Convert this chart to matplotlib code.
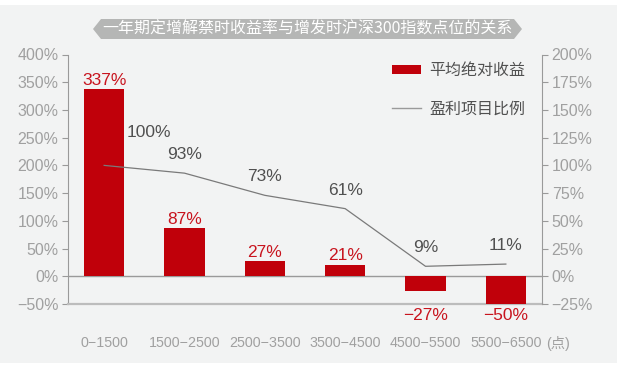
import numpy as np
import matplotlib
matplotlib.use('Agg')
import matplotlib.pyplot as plt
from matplotlib.patches import Polygon, Rectangle, Patch
from matplotlib.lines import Line2D

plt.rcParams['font.family'] = ['Liberation Sans', 'Noto Sans CJK SC', 'DejaVu Sans']
plt.rcParams['axes.unicode_minus'] = True

# data
ranges = ['0\u22121500', '1500\u22122500', '2500\u22123500', '3500\u22124500',
          '4500\u22125500', '5500\u22126500']
unit = '(点)'
avg_return = [337, 87, 27, 21, -27, -50]      # 平均绝对收益 (left axis)
profit_ratio = [100, 93, 73, 61, 9, 11]       # 盈利项目比例 (right axis)
left_ticks = [-50, 0, 50, 100, 150, 200, 250, 300, 350, 400]
right_ticks = [-25, 0, 25, 50, 75, 100, 125, 150, 175, 200]
title = '一年期定增解禁时收益率与增发时沪深300指数点位的关系'

bar_red = '#c0000a'
label_red = '#c8141e'
tick_gray = '#a0a0a0'
bg = '#f2f3f3'


def pct(v):
    return ('%d%%' % v).replace('-', '\u2212')


W, H = 617, 373
fig = plt.figure(figsize=(W / 100, H / 100), dpi=100)
fig.patch.set_facecolor('white')

# light background panel
fig.patches.append(Rectangle((0, 10 / H), 1, (H - 15) / H, transform=fig.transFigure,
                             facecolor=bg, edgecolor='none', zorder=-10))

# title banner
pts = [(93, 29), (101, 19), (514, 19), (522, 29), (514, 39), (101, 39)]
fig.patches.append(Polygon([(x / W, 1 - y / H) for x, y in pts], closed=True,
                           transform=fig.transFigure, facecolor='#b5b6b5',
                           edgecolor='none', zorder=-5))
fig.text(307.5 / W, 1 - 29 / H, title, color='white', fontsize=11.5,
         ha='center', va='center', family=['Noto Sans CJK SC', 'DejaVu Sans'])

ax = fig.add_axes([68 / W, 1 - 304 / H, (542 - 68) / W, (304 - 54.5) / H])
ax.set_facecolor('none')
x = np.arange(len(ranges))
ax.bar(x, avg_return, width=0.5, color=bar_red, zorder=3)
ax.set_xlim(-0.45, len(ranges) - 0.55)
ax.set_ylim(-50, 400)
ax.set_yticks(left_ticks)
ax.set_yticklabels([pct(t) for t in left_ticks])

ax.axhline(0, color='#9a9a9a', lw=1, zorder=2)
for s in ['top', 'right']:
    ax.spines[s].set_visible(False)
ax.spines['left'].set_color('#9a9a9a')
ax.spines['bottom'].set_color('#bcbcbc')
ax.spines['bottom'].set_linewidth(1.6)
ax.tick_params(axis='y', colors='#9a9a9a', labelcolor=tick_gray, labelsize=11.5,
               length=4, pad=3)
ax.tick_params(axis='x', length=0, labelcolor=tick_gray, labelsize=10.3, pad=23)
ax.set_xticks(x)
ax.set_xticklabels(ranges)
# unit after the last category label
ax.annotate(unit, (x[-1], -50), xytext=(29, -23), textcoords='offset points',
            ha='left', va='top', color=tick_gray, fontsize=10.3)

for xi, v in zip(x, avg_return):
    if v >= 0:
        ax.annotate(pct(v), (xi, v), xytext=(0, 1), textcoords='offset points',
                    ha='center', va='bottom', color=label_red, fontsize=12.5)
    else:
        ax.annotate(pct(v), (xi, -50), xytext=(0, -3), textcoords='offset points',
                    ha='center', va='top', color=label_red, fontsize=12.5)

ax2 = ax.twinx()
ax2.set_ylim(-25, 200)
ax2.set_yticks(right_ticks)
ax2.set_yticklabels([pct(t) for t in right_ticks])
ax2.plot(x, profit_ratio, color='#7a7a7a', lw=0.9, zorder=4)
for s in ['top', 'left', 'bottom']:
    ax2.spines[s].set_visible(False)
ax2.spines['right'].set_color('#9a9a9a')
ax2.tick_params(axis='y', colors='#9a9a9a', labelcolor=tick_gray, labelsize=11.5,
                length=4, pad=3)

offsets = [(32, 18), (0, 8), (0, 8), (0, 8), (0, 8), (0, 8)]
for xi, v, off in zip(x, profit_ratio, offsets):
    ax2.annotate(pct(v), (xi, v), xytext=off, textcoords='offset points',
                 ha='center', va='bottom', color='#505050', fontsize=12.5)

handles = [Patch(facecolor=bar_red, edgecolor='none'),
           Line2D([], [], color='#9a9a9a', lw=1)]
fig.legend(handles, ['平均绝对收益', '盈利项目比例'], loc='upper left',
           bbox_to_anchor=(384 / W, 1 - 54 / H), frameon=False,
           handlelength=1.8, handleheight=0.55, handletextpad=0.55,
           labelspacing=1.35, borderpad=0, labelcolor='#505050',
           prop={'family': ['Noto Sans CJK SC', 'DejaVu Sans'], 'size': 11.5})

fig.savefig('out.png', dpi=100, facecolor=fig.get_facecolor())
